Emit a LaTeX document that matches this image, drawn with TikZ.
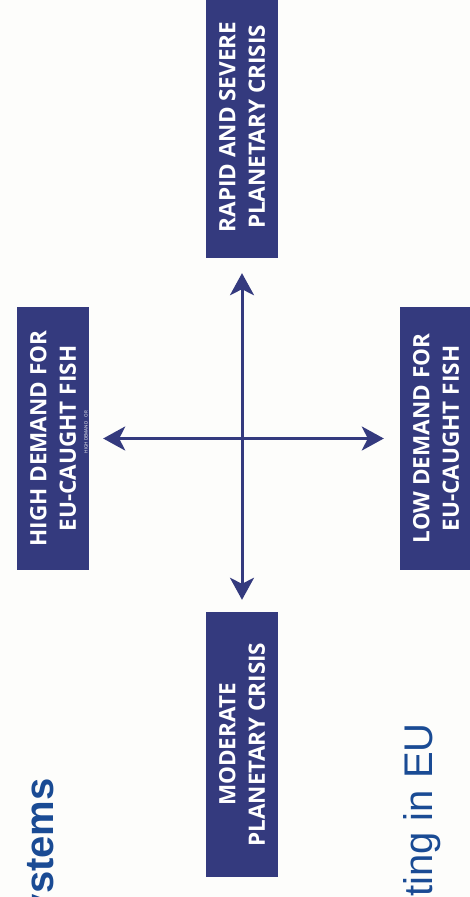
\documentclass[tikz,border=0pt]{standalone}
\usepackage{fontspec}
\setmainfont{Liberation Sans}
\newfontfamily\boxfont{Open Sans}
\usepackage{tikz}
\usetikzlibrary{arrows.meta,positioning}

\definecolor{scenblue}{HTML}{343A7E}
\definecolor{titleblue}{HTML}{1A4B94}
\definecolor{paper}{HTML}{FDFDFB}

\begin{document}
\begin{tikzpicture}[x=1pt,y=-1pt,align=center,
    scenario/.style={fill=scenblue, text=white, rotate=90, inner sep=0,
      minimum height=72, font=\boxfont\bfseries\fontsize{22.5}{29.5}\selectfont},
    axis/.style={draw=scenblue, line width=3pt,
      {Stealth[length=22pt,width=24pt,inset=6pt]}-{Stealth[length=22pt,width=24pt,inset=6pt]}},
    title/.style={rotate=90, anchor=base east, inner sep=0, text=titleblue}]
  \def \midx {242}
  \def \midy {438.5}
  \useasboundingbox (0,0) rectangle (470,897);
  \fill[paper] (0,0) rectangle (470,897);
  \clip (0,0) rectangle (470,897);

  \node[scenario, minimum width=262] (rapid) at (\midx,127) {RAPID AND SEVERE\\PLANETARY CRISIS};
  \node[scenario, minimum width=265] (moderate) at (\midx,744.5) {MODERATE\\PLANETARY CRISIS};
  \node[scenario, minimum width=263] (highdemand) at (53,\midy) {HIGH DEMAND FOR\\EU-CAUGHT FISH};
  \node[scenario, minimum width=263] (lowdemand) at (436,\midy) {LOW DEMAND FOR\\EU-CAUGHT FISH};

  %% tiny leftover label on the edge of the left box
  \node[rotate=90, inner sep=0, text=white, font=\boxfont\fontsize{4.5}{5}\selectfont] (note)
    at (86,432) {HIGH DEMAND\quad OR};

  \draw[axis, shorten <=15pt, shorten >=12pt] (rapid) -- (moderate);
  \draw[axis, shorten <=14pt, shorten >=16pt] (highdemand) -- (lowdemand);

  % cut-off titles of the page
  \node[title, font=\bfseries\fontsize{40}{40}\selectfont] (systems) at (53,778) {ystems};
  \node[title, font=\fontsize{40}{40}\selectfont] (fishing) at (432,723) {ting in EU};

\end{tikzpicture}
\end{document}
